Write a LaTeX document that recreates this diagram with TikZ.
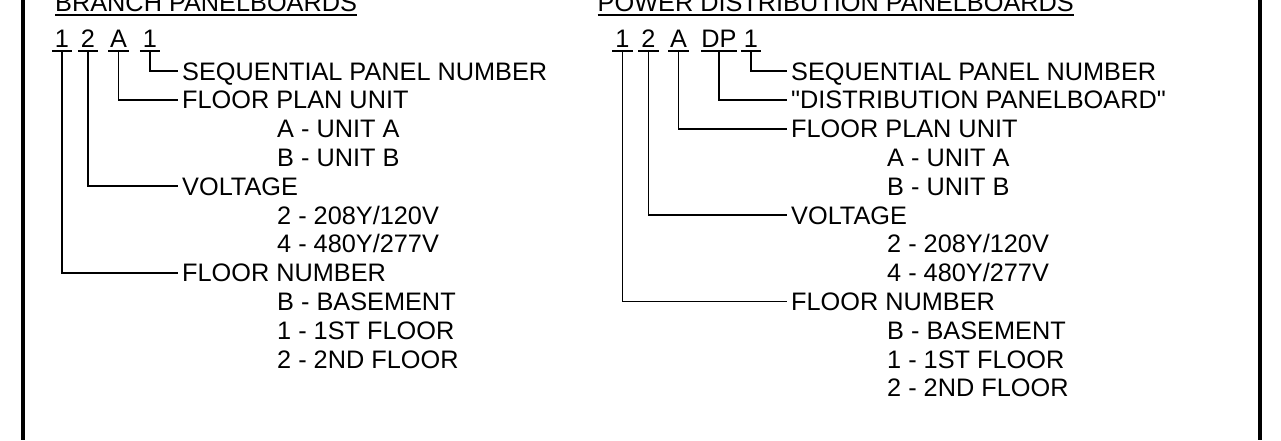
\documentclass[tikz,border=0pt]{standalone}
\usepackage{fontspec}
\setmainfont{Liberation Sans}[Ligatures=TeXOff]
\usetikzlibrary{positioning}

\tikzset{
  digit/.style={anchor=base, inner sep=0pt, minimum width=20pt, text height=18pt, text depth=4pt},
  head/.style={anchor=base west, inner sep=0pt, text height=18pt, text depth=4pt},
  desc/.style={anchor=base west, inner xsep=4pt, inner ysep=0pt, text height=18pt, text depth=0pt},
  lead/.style={line width=1.8pt},
  frame/.style={line width=4pt}
}

\begin{document}
\begin{tikzpicture}[x=1pt,y=-1pt,font=\fontsize{25.3}{28.8}\selectfont]
    \useasboundingbox (0,0) rectangle (1281,440);
    % side rules of the sheet
    \draw[frame] (23,0) -- (23,440);
    \draw[frame] (1260,0) -- (1260,440);

    % branch panelboards
    \node[head] (btitle) at (55,11) {BRANCH PANELBOARDS};
    \node[digit] (bfl) at (62,47) {1};
    \node[digit] (bvo) at (88,47) {2};
    \node[digit] (bun) at (118.5,47) {A};
    \node[digit] (bsq) at (150,47) {1};

    \node[desc] (bsqT) at (178,80) {SEQUENTIAL PANEL NUMBER};
    \node[desc] (bunT) at (178,108.8) {FLOOR PLAN UNIT};
    \node[desc] (bvoT) at (178,195.2) {VOLTAGE};
    \node[desc] (bflT) at (178,281.6) {FLOOR NUMBER};
    \foreach \t [count=\i] in {A - UNIT A,B - UNIT B}
      \node[desc] (bun\i) at (273,{108.8+28.8*\i}) {\t};
    \foreach \t [count=\i] in {2 - 208Y/120V,4 - 480Y/277V}
      \node[desc] (bvo\i) at (273,{195.2+28.8*\i}) {\t};
    \foreach \t [count=\i] in {B - BASEMENT,1 - 1ST FLOOR,2 - 2ND FLOOR}
      \node[desc] (bfl\i) at (273,{281.6+28.8*\i}) {\t};

    % power distribution panelboards
    \node[head] (dtitle) at (597.5,11) {POWER DISTRIBUTION PANELBOARDS};
    \node[digit] (dfl) at (622.5,47) {1};
    \node[digit] (dvo) at (648.5,47) {2};
    \node[digit] (dun) at (678.5,47) {A};
    \node[digit,minimum width=34pt] (ddp) at (719,47) {DP};
    \node[digit] (dsq) at (751,47) {1};

    \node[desc] (dsqT) at (787,80) {SEQUENTIAL PANEL NUMBER};
    \node[desc] (ddpT) at (787,108.8) {"DISTRIBUTION PANELBOARD"};
    \node[desc] (dunT) at (787,137.6) {FLOOR PLAN UNIT};
    \node[desc] (dvoT) at (787,224) {VOLTAGE};
    \node[desc] (dflT) at (787,310.4) {FLOOR NUMBER};
    \foreach \t [count=\i] in {A - UNIT A,B - UNIT B}
      \node[desc] (dun\i) at (883,{137.6+28.8*\i}) {\t};
    \foreach \t [count=\i] in {2 - 208Y/120V,4 - 480Y/277V}
      \node[desc] (dvo\i) at (883,{224+28.8*\i}) {\t};
    \foreach \t [count=\i] in {B - BASEMENT,1 - 1ST FLOOR,2 - 2ND FLOOR}
      \node[desc] (dfl\i) at (883,{310.4+28.8*\i}) {\t};

    % underlines
    \foreach \n in {btitle,dtitle,bfl,bvo,bun,bsq,dfl,dvo,dun,ddp,dsq}
      \draw[lead] (\n.south west) -- (\n.south east);

    % leaders
    \foreach \n in {bfl,bvo,bun,bsq,dfl,dvo,dun,ddp,dsq}
      \draw[lead] (\n.south) |- (\n T.west);
  \end{tikzpicture}
\end{document}
